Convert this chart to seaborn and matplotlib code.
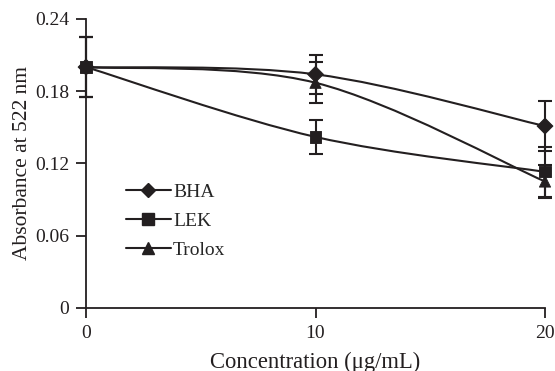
import numpy as np
import matplotlib
matplotlib.use("Agg")
import matplotlib.pyplot as plt
from matplotlib.path import Path
from matplotlib.patches import PathPatch
from matplotlib.lines import Line2D
import seaborn as sns
import pandas as pd

# ─── Data ─────────────────────────────────────────────────────────────────────
concentration = [0, 10, 20]
series_names = ["BHA", "LEK", "Trolox"]
bha_mean = [0.200, 0.194, 0.151]
bha_err = [0.025, 0.016, 0.021]
lek_mean = [0.200, 0.142, 0.113]
lek_err = [0.025, 0.014, 0.021]
trolox_mean = [0.200, 0.187, 0.105]
trolox_err = [0.025, 0.017, 0.014]
y_ticks = [0, 0.06, 0.12, 0.18, 0.24]
y_tick_labels = ["0", "0.06", "0.12", "0.18", "0.24"]
x_ticks = [0, 10, 20]

INK = "#231f20"
MARKERS = {"BHA": "D", "LEK": "s", "Trolox": "^"}
SIZES = {"BHA": 7, "LEK": 8.5, "Trolox": 8.5}

sns.set_theme(style="ticks")
plt.rcParams["font.family"] = ["Liberation Serif", "DejaVu Serif"]
plt.rcParams["font.size"] = 14

df = pd.DataFrame({
    "conc": concentration * 3,
    "absorb": bha_mean + lek_mean + trolox_mean,
    "err": bha_err + lek_err + trolox_err,
    "series": [s for s in series_names for _ in concentration],
})


def smooth_path(xs, ys):
    """Catmull-Rom style smoothed line through the points, as a bezier path."""
    pts = np.column_stack([xs, ys]).astype(float)
    ext = np.vstack([pts[0], pts, pts[-1]])
    verts = [pts[0]]
    codes = [Path.MOVETO]
    for i in range(1, len(ext) - 2):
        p0, p1, p2, p3 = ext[i - 1], ext[i], ext[i + 1], ext[i + 2]
        verts += [p1 + (p2 - p0) / 6, p2 - (p3 - p1) / 6, p2]
        codes += [Path.CURVE4] * 3
    return Path(verts, codes)


fig = plt.figure(figsize=(5.55, 3.71), dpi=100)
ax = fig.add_axes([0.155, 0.170, 0.827, 0.779])

for name, grp in df.groupby("series", sort=False):
    ax.add_patch(PathPatch(smooth_path(grp["conc"], grp["absorb"]),
                           facecolor="none", edgecolor=INK, lw=1.5,
                           clip_on=False, zorder=2))
    ax.errorbar(grp["conc"], grp["absorb"], yerr=grp["err"], fmt="none",
                ecolor=INK, elinewidth=1.5, capsize=5, capthick=1.5,
                clip_on=False, zorder=3)

sns.scatterplot(data=df, x="conc", y="absorb", style="series",
                markers=MARKERS, color=INK, s=65, edgecolor=INK,
                legend=False, ax=ax, zorder=4, clip_on=False)

ax.set_xlim(0, 20)
ax.set_ylim(0, 0.24)
ax.set_xticks(x_ticks)
ax.set_yticks(y_ticks)
ax.set_yticklabels(y_tick_labels)
ax.set_xlabel("Concentration (\u03bcg/mL)", fontsize=16.3, labelpad=7)
ax.set_ylabel("Absorbance at 522 nm", fontsize=15.5, labelpad=2)
sns.despine(ax=ax)
for side in ["left", "bottom"]:
    ax.spines[side].set_color(INK)
    ax.spines[side].set_linewidth(1.3)
ax.tick_params(colors=INK, width=1.3, length=7, labelsize=14, pad=5)
ax.xaxis.label.set_color(INK)
ax.yaxis.label.set_color(INK)

handles = [Line2D([], [], color=INK, lw=1.5, marker=MARKERS[n],
                  markersize=SIZES[n]) for n in series_names]
ax.legend(handles, series_names, loc="center left",
          bbox_to_anchor=(0.066, 0.30), frameon=False, borderpad=0,
          handlelength=2.3, handletextpad=0.12, labelspacing=0.58,
          fontsize=14)

fig.savefig("out.png", dpi=100)
